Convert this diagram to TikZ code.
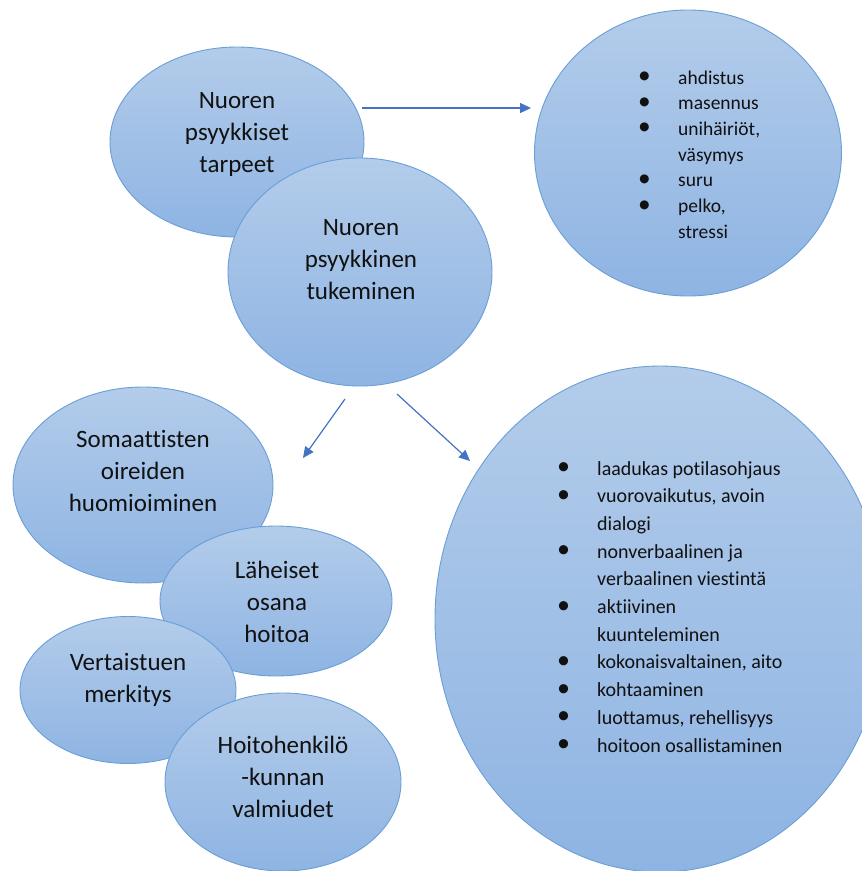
\documentclass[tikz,border=0pt]{standalone}
\usepackage{fontspec}
\setmainfont{Carlito}[Ligatures=NoCommon]
\usetikzlibrary{shapes.geometric,arrows.meta}
\definecolor{bubtop}{HTML}{B3CCEA}
\definecolor{bubbot}{HTML}{8EB4E3}
\definecolor{bubline}{HTML}{6A9FD6}
\definecolor{arr}{HTML}{4472C4}
\definecolor{txt}{HTML}{111111}
\newcommand\bdot{\raisebox{0.5pt}{\scalebox{1.3}{\textbullet}}}
\tikzset{
  bubble/.style={ellipse, draw=bubline, line width=0.9pt, top color=bubtop, bottom color=bubbot, inner sep=0pt},
  lbl/.style={inner sep=0pt, align=center, text=txt, font=\fontsize{25}{32}\selectfont},
  conn/.style={draw=arr, line width=1.2pt, -{Triangle[length=11pt,width=10pt]}},
  listtext/.style={inner sep=0pt, anchor=base west, text=txt}
}
\begin{document}
\begin{tikzpicture}[x=1pt,y=1pt]
\useasboundingbox (0,0) rectangle (862,-871);
\clip (0,0) rectangle (862,-871);

% top group
\node[bubble, minimum width=254pt, minimum height=190pt] (tarpeet) at (237,-142) {};
\node[lbl] (tarpeet-t) at (237,-134) {Nuoren\\psyykkiset\\tarpeet};
\node[bubble, minimum width=264pt, minimum height=228pt] (tuki) at (360,-272) {};
\node[lbl] (tuki-t) at (361,-260) {Nuoren\\psyykkinen\\tukeminen};

% top-right circle
\node[bubble, minimum width=307pt, minimum height=286pt] (oireet) at (688,-153) {};
\node[listtext, font=\fontsize{19.5}{25.7}\selectfont] (oireet-t) at (638,-84)
  {\begin{tabular}[t]{@{}p{40pt}@{}l@{}}
   \bdot & ahdistus\\
   \bdot & masennus\\
   \bdot & unihäiriöt,\\
         & väsymys\\
   \bdot & suru\\
   \bdot & pelko,\\
         & stressi
   \end{tabular}};

% big right ellipse
\node[bubble, minimum width=450pt, minimum height=506pt] (keinot) at (660,-619) {};
\node[listtext, font=\fontsize{20}{27.7}\selectfont] (keinot-t) at (557,-475)
  {\begin{tabular}[t]{@{}p{40pt}@{}l@{}}
   \bdot & laadukas potilasohjaus\\
   \bdot & vuorovaikutus, avoin\\
         & dialogi\\
   \bdot & nonverbaalinen ja\\
         & verbaalinen viestintä\\
   \bdot & aktiivinen\\
         & kuunteleminen\\
   \bdot & kokonaisvaltainen, aito\\
   \bdot & kohtaaminen\\
   \bdot & luottamus, rehellisyys\\
   \bdot & hoitoon osallistaminen
   \end{tabular}};

% bottom-left group
\node[bubble, minimum width=260pt, minimum height=196pt] (soma) at (143,-485) {};
\node[lbl] (soma-t) at (143,-471) {Somaattisten\\oireiden\\huomioiminen};
\node[bubble, minimum width=232pt, minimum height=150pt] (laheiset) at (276,-601) {};
\node[lbl] (laheiset-t) at (277,-602) {Läheiset\\osana\\hoitoa};
\node[bubble, minimum width=216pt, minimum height=147pt] (vertais) at (128,-690) {};
\node[lbl] (vertais-t) at (128,-680) {Vertaistuen\\merkitys};
\node[bubble, minimum width=236pt, minimum height=178pt] (hoito) at (283,-782) {};
\node[lbl] (hoito-t) at (283,-777) {Hoitohenkilö\\-kunnan\\valmiudet};

% connectors
\coordinate (a1s) at (362,-108);
\coordinate (a1e) at (531,-108);
\coordinate (a2s) at (345,-399);
\coordinate (a2e) at (303,-458);
\coordinate (a3s) at (397,-394);
\coordinate (a3e) at (470,-461);
\draw[conn] (a1s) -- (a1e);
\draw[conn] (a2s) -- (a2e);
\draw[conn] (a3s) -- (a3e);
\end{tikzpicture}
\end{document}
